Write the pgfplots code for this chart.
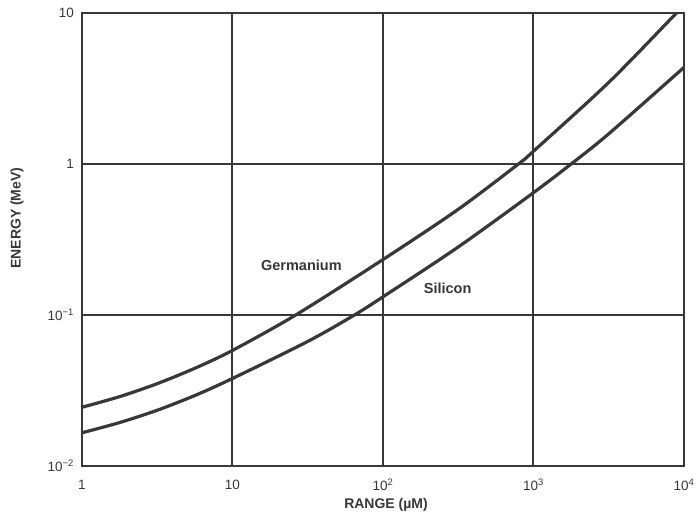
\documentclass[border=0pt]{standalone}
\usepackage{pgfplots}
\pgfplotsset{compat=1.18}
\usepackage{fontspec}
\setmainfont{Liberation Sans}
\definecolor{ink}{HTML}{383838}
\begin{document}
\begin{tikzpicture}
\useasboundingbox (-82pt,-49pt) rectangle (615pt,466pt);
\begin{axis}[
  scale only axis, width=602pt, height=453pt,
  xmode=log, ymode=log,
  xmin=1, xmax=10000, ymin=0.01, ymax=10,
  xtick={1,10,100,1000,10000},
  xticklabels={1,10,10\textsuperscript{2},10\textsuperscript{3},10\textsuperscript{4}},
  ytick={0.01,0.1,1,10},
  yticklabels={10\textsuperscript{−2},10\textsuperscript{−1},1,10},
  major tick length=0pt, minor tick length=0pt,
  grid=major,
  major grid style={ink, line width=2pt},
  axis line style={ink, line width=2.2pt},
  tick label style={font=\fontsize{13.5}{15}\selectfont, text=ink},
  xticklabel style={anchor=center, yshift=-19pt},
  yticklabel style={anchor=east, inner sep=0pt, xshift=-8pt},
  label style={font=\bfseries\fontsize{14}{16}\selectfont, text=ink},
  xlabel={RANGE (µM)},
  ylabel={ENERGY (MeV)},
  xlabel style={at={(axis description cs:0.505,0)}, anchor=center, yshift=-39pt},
  ylabel style={at={(axis description cs:-0.108,0.547)}, anchor=center},
  clip=true,
]
% Germanium
\addplot[ink, line width=3.2pt, smooth] coordinates {
(1,0.0245) (1.778,0.0288) (3.16,0.0351) (5.623,0.0444) (10,0.0583) (26.3,0.100) (100,0.233)
(316,0.501) (794,1.0) (1000,1.216) (3162,3.47) (8913,10.0) (10000,11.2)};
% Silicon
\addplot[ink, line width=3.2pt, smooth] coordinates {
(1,0.0166) (1.778,0.0194) (3.16,0.0234) (5.623,0.0293) (10,0.038) (31.6,0.0668) (64.6,0.100) (100,0.132)
(316,0.282) (1000,0.646) (1778,1.0) (3162,1.585) (10000,4.365)};
\node[font=\bfseries\fontsize{14.5}{16}\selectfont, text=ink] at (axis cs:28.7,0.212) {Germanium};
\node[font=\bfseries\fontsize{14.5}{16}\selectfont, text=ink] at (axis cs:269,0.150) {Silicon};
\end{axis}
\end{tikzpicture}
\end{document}
